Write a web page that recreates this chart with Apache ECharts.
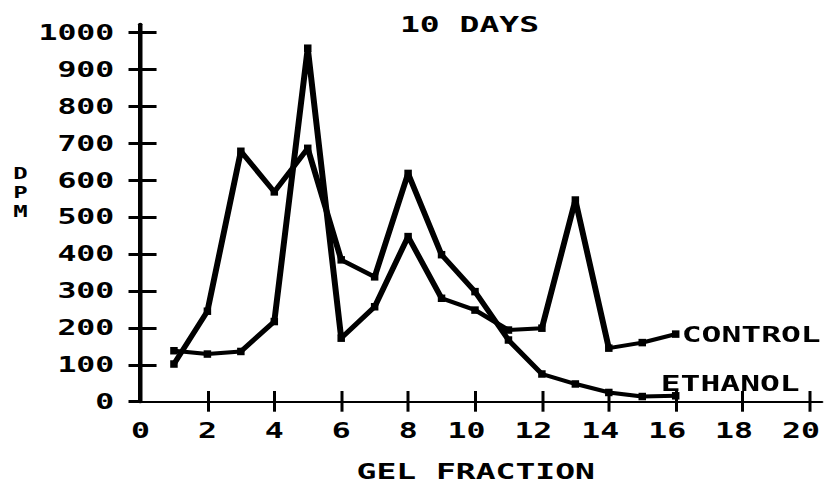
<!DOCTYPE html>
<html>
<head>
<meta charset="utf-8">
<script src="https://cdn.jsdelivr.net/npm/echarts@6/dist/echarts.min.js"></script>
<style>
  html, body { margin: 0; padding: 0; background: #fff; overflow: hidden; }
  #wrap { width: 826px; height: 485px; overflow: hidden; }
  /* the plotter font is very wide: draw narrow, then stretch horizontally */
  #chart { height: 485px; transform-origin: 0 0; }
</style>
</head>
<body>
<div id="wrap"><div id="chart"></div></div>
<script>
// Gel fraction numbers
const fractions = [1, 2, 3, 4, 5, 6, 7, 8, 9, 10, 11, 12, 13, 14, 15, 16];
// DPM per fraction
const control = [138, 129, 136, 217, 957, 172, 257, 447, 280, 248, 194, 199, 546, 145, 160, 183];
const ethanol = [102, 245, 678, 568, 686, 384, 338, 618, 398, 298, 167, 75, 48, 25, 14, 16];
// Axis tick values
const xTickValues = [0, 2, 4, 6, 8, 10, 12, 14, 16, 18, 20];
const yTickValues = [0, 100, 200, 300, 400, 500, 600, 700, 800, 900, 1000];

const STRETCH = 1.5;
const W = 826 / STRETCH;
const H = 485;
const el = document.getElementById('chart');
el.style.width = W + 'px';
el.style.transform = 'scaleX(' + STRETCH + ')';

const FONT = "'DejaVu Sans Mono', 'Liberation Mono', monospace";
const INK = '#000';

const chart = echarts.init(el, null, { renderer: 'svg', width: W, height: H });

// axes run a little past the last labelled tick
const xRange = { min: 0, max: 20.4 };
const yRange = { min: 0, max: 1022 };

const plainNumber = v => String(v);
// the plotter sets two-digit fraction numbers half a character to the left
const fractionLabel = v => (v >= 10 ? '{wide|' + v + '}' : String(v));
const labelFont = { fontFamily: FONT, fontWeight: 'bold', fontSize: 21, color: INK };

chart.setOption({
  backgroundColor: '#fff',
  animation: false,
  title: {
    text: '10 DAYS',
    left: 400 / STRETCH,
    top: 14,
    padding: 0,
    textStyle: { fontFamily: FONT, fontWeight: 'bold', fontSize: 22, color: INK }
  },
  graphic: [
    {
      type: 'text',
      x: 20.5 / STRETCH,
      y: 192.5,
      style: {
        text: 'D\nP\nM',
        fill: INK,
        font: 'bold 16px ' + FONT,
        lineHeight: 18.7,
        align: 'center',
        verticalAlign: 'middle'
      }
    }
  ],
  grid: {
    left: 140.5 / STRETCH,
    right: W - (140.5 + 20.4 * 33.45) / STRETCH,
    top: 24.2,
    bottom: H - 401.7,
    containLabel: false,
    outerBoundsMode: 'none'
  },
  xAxis: [
    {
      type: 'value',
      min: xRange.min, max: xRange.max, interval: 2,
      position: 'bottom',
      name: 'GEL FRACTION',
      nameLocation: 'middle',
      nameGap: 59,
      nameTextStyle: { fontFamily: FONT, fontWeight: 'bold', fontSize: 22, color: INK, padding: [0, 8, 0, 0] },
      axisLine: { show: true, onZero: false, lineStyle: { color: INK, width: 2.2, type: [1.8, 0.8] } },
      axisTick: { show: true, length: 10, customValues: xTickValues.slice(1), lineStyle: { color: INK, width: 2 } },
      axisLabel: Object.assign({
        show: true, customValues: xTickValues, formatter: fractionLabel, margin: 18,
        rich: { wide: Object.assign({ padding: [0, 11.4, 0, 0] }, labelFont) }
      }, labelFont),
      splitLine: { show: false }
    },
    {
      type: 'value',
      min: xRange.min, max: xRange.max, interval: 2,
      position: 'bottom',
      axisLine: { show: false },
      axisTick: { show: true, inside: true, length: 10.7, customValues: xTickValues.slice(1), lineStyle: { color: INK, width: 2 } },
      axisLabel: { show: false },
      splitLine: { show: false }
    }
  ],
  yAxis: [
    {
      type: 'value',
      min: yRange.min, max: yRange.max,
      position: 'left',
      axisLine: { show: true, onZero: false, lineStyle: { color: INK, width: 3 } },
      axisTick: { show: true, length: 8, customValues: yTickValues, lineStyle: { color: INK, width: 3 } },
      axisLabel: Object.assign({ show: true, customValues: yTickValues, formatter: plainNumber, margin: 17.5 }, labelFont),
      splitLine: { show: false }
    },
    {
      type: 'value',
      min: yRange.min, max: yRange.max,
      position: 'left',
      axisLine: { show: false },
      axisTick: { show: true, inside: true, length: 10.7, customValues: yTickValues.slice(1), lineStyle: { color: INK, width: 3 } },
      axisLabel: { show: false },
      splitLine: { show: false }
    }
  ],
  series: [
    {
      name: 'CONTROL',
      type: 'line',
      xAxisIndex: 0, yAxisIndex: 0,
      data: fractions.map((f, i) => [f, control[i]]),
      symbol: 'rect',
      symbolSize: [7.5 / STRETCH, 7.5],
      lineStyle: { color: INK, width: 4 },
      itemStyle: { color: INK },
      endLabel: {
        show: true,
        formatter: 'CONTROL',
        distance: 4,
        offset: [0, 0],
        fontFamily: FONT, fontWeight: 'bold', fontSize: 22, color: INK
      }
    },
    {
      name: 'ETHANOL',
      type: 'line',
      xAxisIndex: 0, yAxisIndex: 0,
      data: fractions.map((f, i) => [f, ethanol[i]]),
      symbol: 'rect',
      symbolSize: [7.5 / STRETCH, 7.5],
      lineStyle: { color: INK, width: 4 },
      itemStyle: { color: INK },
      endLabel: {
        show: true,
        formatter: 'ETHANOL',
        distance: 4,
        offset: [-14, -12],
        fontFamily: FONT, fontWeight: 'bold', fontSize: 22, color: INK
      }
    }
  ]
});
</script>
</body>
</html>
